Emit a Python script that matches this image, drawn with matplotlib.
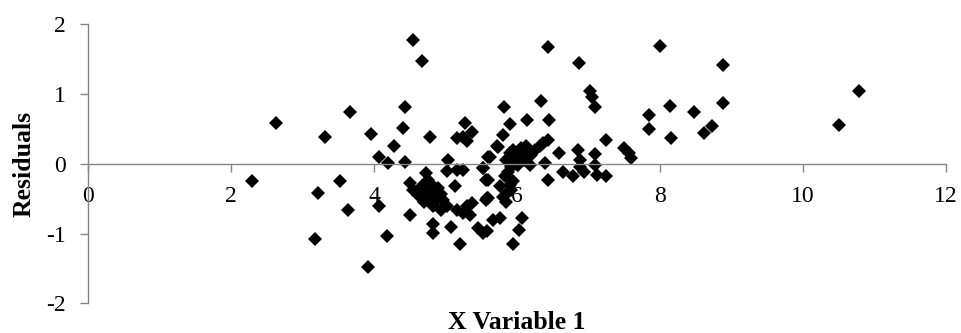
import numpy as np
import matplotlib.pyplot as plt

# residual points (X Variable 1, Residuals)
x_sparse = [2.30, 2.63, 3.32, 3.22, 3.18, 3.53, 3.66, 3.64, 3.91, 3.96, 4.07, 4.07,
            4.18, 4.20, 4.28, 4.41, 4.44, 4.44, 4.55, 4.67, 4.78]
r_sparse = [-0.24, 0.59, 0.38, -0.42, -1.08, -0.24, 0.74, -0.66, -1.48, 0.43, 0.10, -0.60,
            -1.03, 0.01, 0.26, 0.52, 0.81, 0.02, 1.78, 1.48, 0.38]

x_left = [4.51, 4.55, 4.51, 4.72, 4.76, 4.67, 4.81, 4.74, 4.86, 4.93, 4.88, 4.83,
          4.97, 5.02, 4.93, 4.82, 4.83, 4.62, 4.70, 4.78, 4.90]
r_left = [-0.27, -0.37, -0.74, -0.13, -0.23, -0.32, -0.30, -0.42, -0.37, -0.44, -0.52, -0.61,
          -0.52, -0.61, -0.66, -0.87, -0.99, -0.45, -0.55, -0.48, -0.35]

x_mid = [5.27, 5.37, 5.16, 5.30, 5.25, 5.04, 5.02, 5.16, 5.25, 5.53, 5.56, 5.13,
         5.16, 5.25, 5.30, 5.37, 5.34, 5.56, 5.07, 5.20, 5.46, 5.53, 5.58, 5.60,
         5.59, 5.52, 5.60, 5.72, 5.67, 5.76, 5.58, 5.81, 5.73, 5.62, 5.82, 5.90]
r_mid = [0.58, 0.46, 0.37, 0.32, 0.39, 0.06, -0.11, -0.09, -0.09, -0.06, -0.23, -0.32,
         -0.66, -0.71, -0.61, -0.56, -0.73, -0.52, -0.91, -1.15, -0.92, -0.99, -0.97, -0.23,
         -0.49, -0.06, 0.10, 0.25, -0.80, -0.78, -0.49, 0.41, 0.24, 0.10, 0.82, 0.57]

x_core = [5.85, 5.90, 5.95, 6.00, 6.05, 6.10, 6.15, 6.20, 5.92, 6.02, 5.88, 5.98,
          6.08, 6.25, 5.95, 5.90, 5.85, 5.80, 5.92, 5.76, 5.86, 6.07, 6.03, 5.94,
          6.18, 5.83, 6.12, 5.97]
r_core = [0.05, 0.15, 0.20, 0.10, 0.22, 0.05, 0.18, 0.12, -0.05, -0.02, -0.12, 0.00,
          0.15, 0.20, -0.25, -0.30, -0.55, -0.48, -0.38, -0.32, -0.42, -0.78, -0.95, -1.15,
          -0.01, -0.18, 0.25, 0.08]

x_right = [6.44, 6.87, 8.00, 7.02, 7.05, 7.09, 6.33, 6.14, 6.45, 7.84, 7.85, 8.14,
           8.15, 7.25, 7.50, 7.56, 7.59, 6.59, 6.85, 6.88, 7.09, 7.09, 6.39, 6.44,
           6.65, 6.78, 6.94, 7.12, 7.25, 6.37, 6.44, 6.32, 6.88, 8.88, 8.47, 8.88,
           8.73, 8.62, 10.51, 10.79]
r_right = [1.67, 1.45, 1.69, 1.04, 0.96, 0.82, 0.90, 0.63, 0.63, 0.70, 0.50, 0.83,
           0.37, 0.34, 0.22, 0.15, 0.08, 0.15, 0.20, 0.06, 0.14, -0.02, 0.01, -0.23,
           -0.12, -0.17, -0.12, -0.16, -0.17, 0.30, 0.34, 0.25, -0.04, 1.41, 0.74, 0.87,
           0.54, 0.44, 0.56, 1.05]

x_vals = x_sparse + x_left + x_mid + x_core + x_right
resid = r_sparse + r_left + r_mid + r_core + r_right

plt.rcParams['font.family'] = ['Liberation Serif', 'DejaVu Serif']
plt.rcParams['axes.unicode_minus'] = False
axis_grey = '#868686'

fig = plt.figure(figsize=(9.61, 3.33), dpi=100)
ax = fig.add_axes([0.0916, 0.0892, 0.8928, 0.8378])

ax.plot(x_vals, resid, 'D', color='black', markersize=7.4, markeredgewidth=0)

ax.set_xlim(0, 12)
ax.set_ylim(-2, 2)
ax.set_xticks(np.arange(0, 13, 2))
ax.set_yticks(np.arange(-2, 3, 1))

# Excel style: x axis crosses at y = 0
ax.spines['bottom'].set_position(('data', 0))
ax.spines['top'].set_visible(False)
ax.spines['right'].set_visible(False)
for s in ('bottom', 'left'):
    ax.spines[s].set_color(axis_grey)
    ax.spines[s].set_linewidth(1.0)

ax.tick_params(axis='x', direction='out', length=5.8, width=1.0, color=axis_grey,
               labelsize=17, pad=10)
ax.tick_params(axis='y', direction='out', length=5.8, width=1.0, color=axis_grey,
               labelsize=17, pad=10)

ax.set_xlabel('X Variable 1', fontsize=18.5, fontweight='bold', va='center')
ax.xaxis.set_label_coords(0.5, -0.068)
ax.set_ylabel('Residuals', fontsize=18.5, fontweight='bold', va='center')
ax.yaxis.set_label_coords(-0.075, 0.5)

fig.savefig('out.png', dpi=100)
